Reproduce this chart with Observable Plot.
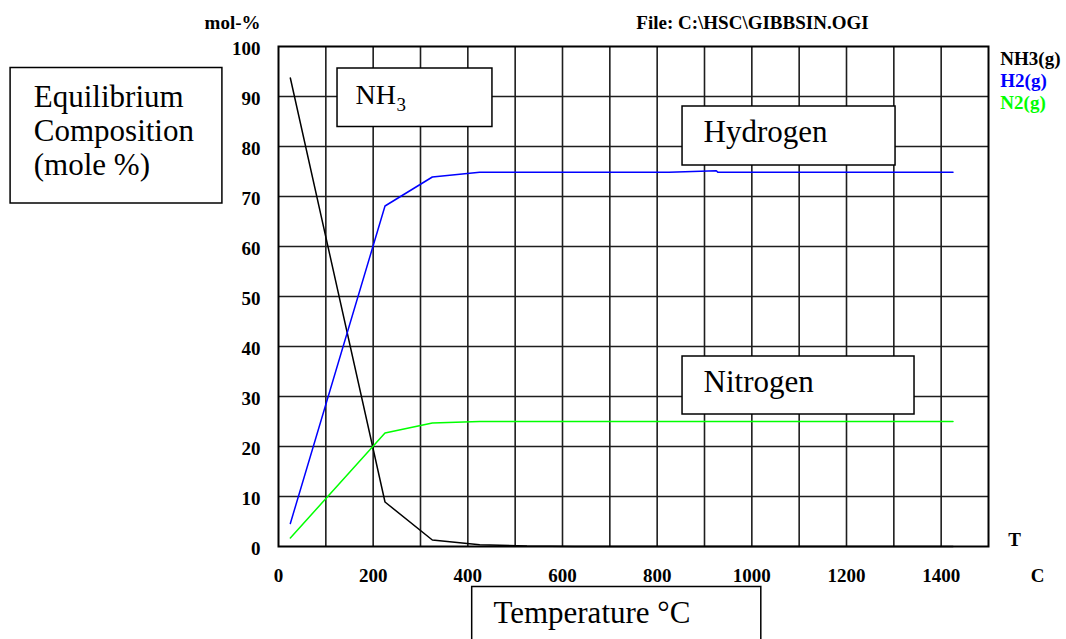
<!DOCTYPE html>
<html><head><meta charset="utf-8">
<script src="https://cdn.jsdelivr.net/npm/d3@7"></script>
<script src="https://cdn.jsdelivr.net/npm/@observablehq/plot@0.6"></script>
<style>
html,body{margin:0;padding:0;background:#fff;overflow:hidden;}
svg text{font-family:"Liberation Serif","Times New Roman",Times,serif;}
</style></head><body><div id="chart"></div>
<script>
// ---- data ----
const temps = [25, 225, 325, 425, 525, 625, 725, 825, 925, 1025, 1125, 1225, 1325, 1425];
const h2Temps = [25, 225, 325, 425, 525, 625, 725, 825, 925, 928, 1025, 1125, 1225, 1325, 1425];
const nh3 = [93.7, 8.9, 1.3, 0.35, 0.08, 0.02, 0, 0, 0, 0, 0, 0, 0, 0];
const h2  = [4.6, 68.1, 73.9, 74.87, 74.87, 74.87, 74.87, 74.87, 75.14, 74.87, 74.87, 74.87, 74.87, 74.87, 74.87];
const n2  = [1.7, 22.7, 24.7, 25.0, 25.0, 25.0, 25.0, 25.0, 25.0, 25.0, 25.0, 25.0, 25.0, 25.0];
const seriesNames = ["NH3(g)", "H2(g)", "N2(g)"];
const seriesColors = ["#000000", "#0000ff", "#00ff00"];
const xTicks = [0, 200, 400, 600, 800, 1000, 1200, 1400];
const xGrid = [100, 200, 300, 400, 500, 600, 700, 800, 900, 1000, 1100, 1200, 1300, 1400];
const yTicks = [0, 10, 20, 30, 40, 50, 60, 70, 80, 90, 100];
const yGrid = [10, 20, 30, 40, 50, 60, 70, 80, 90];

const rows = [
  ...temps.map((t, i) => ({series: seriesNames[0], T: t, v: nh3[i]})),
  ...h2Temps.map((t, i) => ({series: seriesNames[1], T: t, v: h2[i]})),
  ...temps.map((t, i) => ({series: seriesNames[2], T: t, v: n2[i]}))
];

const FONT = '"Liberation Serif","Times New Roman",Times,serif';

// annotation boxes (in data units)
const boxes = [
  {x1: -566, x2: -118.5, y1: 95.7, y2: 68.6},   // Equilibrium Composition
  {x1: 124.7, x2: 452, y1: 95.6, y2: 83.9},      // NH3
  {x1: 853.6, x2: 1303.6, y1: 88, y2: 76.2},     // Hydrogen
  {x1: 853.6, x2: 1343.7, y1: 38, y2: 26.4},     // Nitrogen
  {x1: 409.2, x2: 1020, y1: -8.1, y2: -22}       // Temperature
];
const bigLabels = [
  {x: -517, y: 89.8, t: "Equilibrium"},
  {x: -517, y: 83.0, t: "Composition"},
  {x: -517, y: 76.2, t: "(mole %)"},
  {x: 898, y: 82.8, t: "Hydrogen"},
  {x: 898, y: 32.8, t: "Nitrogen"},
  {x: 454, y: -13.3, t: "Temperature °C"}
];
const legendY = [97.6, 93.2, 88.8];

const plot = Plot.plot({
  width: 1066, height: 639,
  marginLeft: 278, marginRight: 78, marginTop: 46, marginBottom: 93,
  style: {fontFamily: FONT, fontSize: "19px", fontWeight: "bold", color: "black", background: "white"},
  x: {domain: [0, 1500]},
  y: {domain: [0, 100]},
  color: {domain: seriesNames, range: seriesColors},
  marks: [
    Plot.ruleX(xGrid, {stroke: "#1e1e1e", strokeWidth: 1.6}),
    Plot.ruleY(yGrid, {stroke: "#1e1e1e", strokeWidth: 1.6}),
    Plot.frame({stroke: "black", strokeWidth: 2}),
    Plot.axisX({ticks: xTicks, tickSize: 0, tickPadding: 22, tickFormat: d => String(d), label: null, fontWeight: "bold", fontFamily: FONT}),
    Plot.axisY({ticks: yTicks, tickSize: 0, tickPadding: 18, dy: 2, tickFormat: d => String(d), label: null, fontWeight: "bold", fontFamily: FONT}),
    Plot.line(rows, {x: "T", y: "v", z: "series", stroke: "series", strokeWidth: 1.5}),
    Plot.rect(boxes, {x1: "x1", x2: "x2", y1: "y1", y2: "y2", fill: "white", stroke: "black", strokeWidth: 1.5}),
    Plot.text(bigLabels, {x: "x", y: "y", text: "t", textAnchor: "start", fontSize: 31, fontWeight: "normal", fontFamily: FONT, fill: "black"}),
    Plot.text(["NH"], {x: 162.7, y: 90.3, text: d => d, textAnchor: "start", fontSize: 28, fontWeight: "normal", fontFamily: FONT, fill: "black"}),
    Plot.text(["3"], {x: 249.5, y: 88.4, text: d => d, textAnchor: "start", fontSize: 19, fontWeight: "normal", fontFamily: FONT, fill: "black"}),
    Plot.text(["mol-%"], {x: -38, y: 104.8, text: d => d, textAnchor: "end", fontFamily: FONT, fill: "black"}),
    Plot.text(["File: C:\\HSC\\GIBBSIN.OGI"], {x: 756, y: 104.8, text: d => d, textAnchor: "start", fontFamily: FONT, fill: "black"}),
    Plot.text(seriesNames, {x: 1525, y: (d, i) => legendY[i], text: d => d, textAnchor: "start", fontFamily: FONT, fill: d => d}),
    Plot.text(["T"], {x: 1555, y: 1.4, text: d => d, fontFamily: FONT, fill: "black"}),
    Plot.text(["C"], {x: 1604, y: -5.8, text: d => d, fontFamily: FONT, fill: "black"})
  ]
});
document.getElementById("chart").appendChild(plot);
</script>
</body></html>
